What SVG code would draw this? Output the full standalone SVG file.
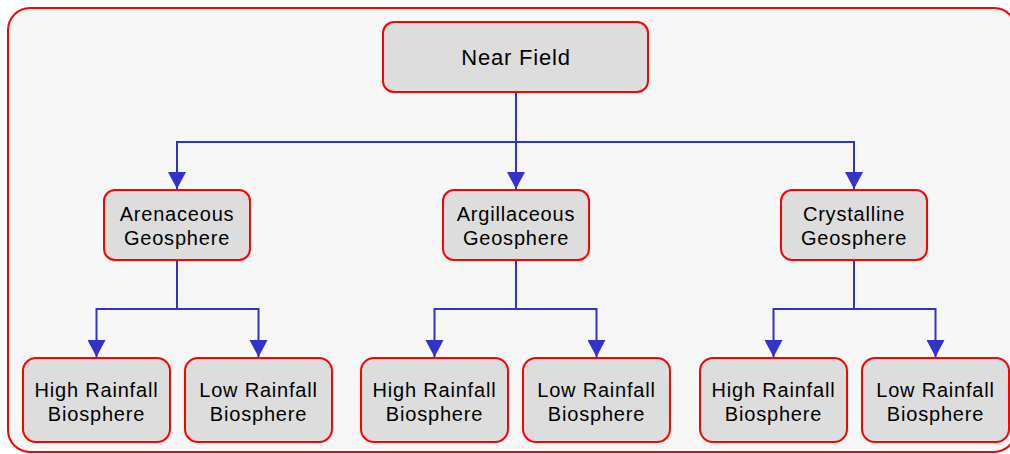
<svg xmlns="http://www.w3.org/2000/svg" width="1010" height="454" viewBox="0 0 1010 454">
<defs>
<style>
.box{fill:#dddddd;stroke:#ff0000;stroke-width:2}
.t{font-family:"Liberation Sans",Arial,sans-serif;font-size:20px;fill:#000;text-anchor:middle;letter-spacing:0.8px}
.big{font-size:22px}
.c{fill:none;stroke:#3333cc;stroke-width:2}
</style>
<marker id="ah" markerUnits="userSpaceOnUse" markerWidth="17" markerHeight="18" viewBox="0 0 17 18" refX="17" refY="9" orient="auto">
<path d="M0,0 L17,9 L0,18 z" fill="#3333cc"/>
</marker>
</defs>
<rect x="8" y="8" width="1008" height="444" rx="22" fill="#f7f7f7" stroke="#ff0000" stroke-width="2"/>
<g id="connectors">
<path class="c" d="M516,92 V142 H177 V189" marker-end="url(#ah)"/>
<path class="c" d="M516,92 V189" marker-end="url(#ah)"/>
<path class="c" d="M516,142 H854 V189" marker-end="url(#ah)"/>
<path class="c" d="M177,260 V309 H96.5 V357" marker-end="url(#ah)"/>
<path class="c" d="M177,309 H258.5 V357" marker-end="url(#ah)"/>
<path class="c" d="M516,260 V309 H434.5 V357" marker-end="url(#ah)"/>
<path class="c" d="M516,309 H596.5 V357" marker-end="url(#ah)"/>
<path class="c" d="M854,260 V309 H773.5 V357" marker-end="url(#ah)"/>
<path class="c" d="M854,309 H935.5 V357" marker-end="url(#ah)"/>
</g>
<g id="near-field">
<rect class="box" x="383" y="22" width="265" height="70" rx="11"/>
<text class="t big" x="516" y="65">Near Field</text>
</g>
<g id="arenaceous">
<rect class="box" x="104" y="190" width="146" height="70" rx="11"/>
<text class="t" x="177" y="221">Arenaceous</text>
<text class="t" x="177" y="245">Geosphere</text>
</g>
<g id="argillaceous">
<rect class="box" x="443" y="190" width="146" height="70" rx="11"/>
<text class="t" x="516" y="221">Argillaceous</text>
<text class="t" x="516" y="245">Geosphere</text>
</g>
<g id="crystalline">
<rect class="box" x="781" y="190" width="146" height="70" rx="11"/>
<text class="t" x="854" y="221">Crystalline</text>
<text class="t" x="854" y="245">Geosphere</text>
</g>
<g id="aren-high">
<rect class="box" x="23" y="358" width="147" height="84" rx="13"/>
<text class="t" x="96.5" y="397">High Rainfall</text>
<text class="t" x="96.5" y="421">Biosphere</text>
</g>
<g id="aren-low">
<rect class="box" x="185" y="358" width="147" height="84" rx="13"/>
<text class="t" x="258.5" y="397">Low Rainfall</text>
<text class="t" x="258.5" y="421">Biosphere</text>
</g>
<g id="argi-high">
<rect class="box" x="361" y="358" width="147" height="84" rx="13"/>
<text class="t" x="434.5" y="397">High Rainfall</text>
<text class="t" x="434.5" y="421">Biosphere</text>
</g>
<g id="argi-low">
<rect class="box" x="523" y="358" width="147" height="84" rx="13"/>
<text class="t" x="596.5" y="397">Low Rainfall</text>
<text class="t" x="596.5" y="421">Biosphere</text>
</g>
<g id="crys-high">
<rect class="box" x="700" y="358" width="147" height="84" rx="13"/>
<text class="t" x="773.5" y="397">High Rainfall</text>
<text class="t" x="773.5" y="421">Biosphere</text>
</g>
<g id="crys-low">
<rect class="box" x="862" y="358" width="147" height="84" rx="13"/>
<text class="t" x="935.5" y="397">Low Rainfall</text>
<text class="t" x="935.5" y="421">Biosphere</text>
</g>
</svg>
